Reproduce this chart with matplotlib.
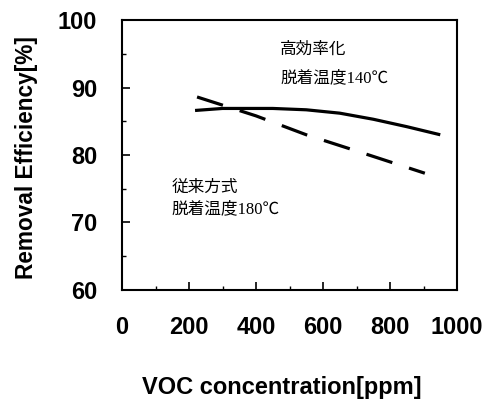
import numpy as np
import matplotlib.pyplot as plt
from matplotlib.ticker import MultipleLocator

# Data
conc_new = [218, 300, 450, 550, 650, 750, 850, 950]
eff_new = [86.6, 86.9, 86.9, 86.7, 86.2, 85.3, 84.2, 83.0]
conc_old = [224, 400, 550, 700, 904]
eff_old = [88.6, 85.8, 83.0, 80.6, 77.3]

x_ticks = [0, 200, 400, 600, 800, 1000]
y_ticks = [60, 70, 80, 90, 100]

label_new = ["高効率化", "脱着温度140℃"]
label_old = ["従来方式", "脱着温度180℃"]


def main():
    fig = plt.figure(figsize=(4.93, 4.09), dpi=100)
    ax = fig.add_axes([0.2475, 0.291, 0.6795, 0.66])

    ax.plot(conc_new, eff_new, color="black", linewidth=2.3, solid_capstyle="butt")
    ax.plot(conc_old, eff_old, color="black", linewidth=2.3,
            dashes=(8.5, 5.5), dash_capstyle="butt")

    ax.set_xlim(0, 1000)
    ax.set_ylim(60, 100)
    ax.set_xticks(x_ticks)
    ax.set_yticks(y_ticks)
    ax.xaxis.set_minor_locator(MultipleLocator(100))
    ax.yaxis.set_minor_locator(MultipleLocator(5))
    ax.tick_params(which="major", direction="in", length=6, width=1.2,
                   labelsize=17)
    ax.tick_params(which="minor", direction="in", length=3, width=1.0)
    ax.tick_params(axis="x", which="major", pad=19)
    ax.tick_params(axis="y", which="major", pad=18)
    for lab in ax.get_xticklabels() + ax.get_yticklabels():
        lab.set_fontweight("bold")
        lab.set_family("Liberation Sans")
    for sp in ax.spines.values():
        sp.set_linewidth(1.5)

    ax.set_xlabel("VOC concentration[ppm]", family="Liberation Sans",
                  fontweight="bold", fontsize=17)
    ax.set_ylabel("Removal Efficiency[%]", family="Liberation Sans",
                  fontweight="bold", fontsize=16.3)
    ax.xaxis.set_label_coords(0.478, -0.363)
    ax.yaxis.set_label_coords(-0.285, 0.49)
    ax.xaxis.label.set_va("center")
    ax.yaxis.label.set_va("center")

    fam = ["Liberation Serif", "Noto Sans CJK JP"]
    ax.text(472, 95.6, label_new[0], family=fam, fontsize=12, va="center")
    ax.text(472, 91.4, label_new[1], family=fam, fontsize=12, va="center")
    ax.text(149, 75.1, label_old[0], family=fam, fontsize=12, va="center")
    ax.text(149, 71.9, label_old[1], family=fam, fontsize=12, va="center")

    fig.savefig("out.png", dpi=100)


if __name__ == "__main__":
    main()
